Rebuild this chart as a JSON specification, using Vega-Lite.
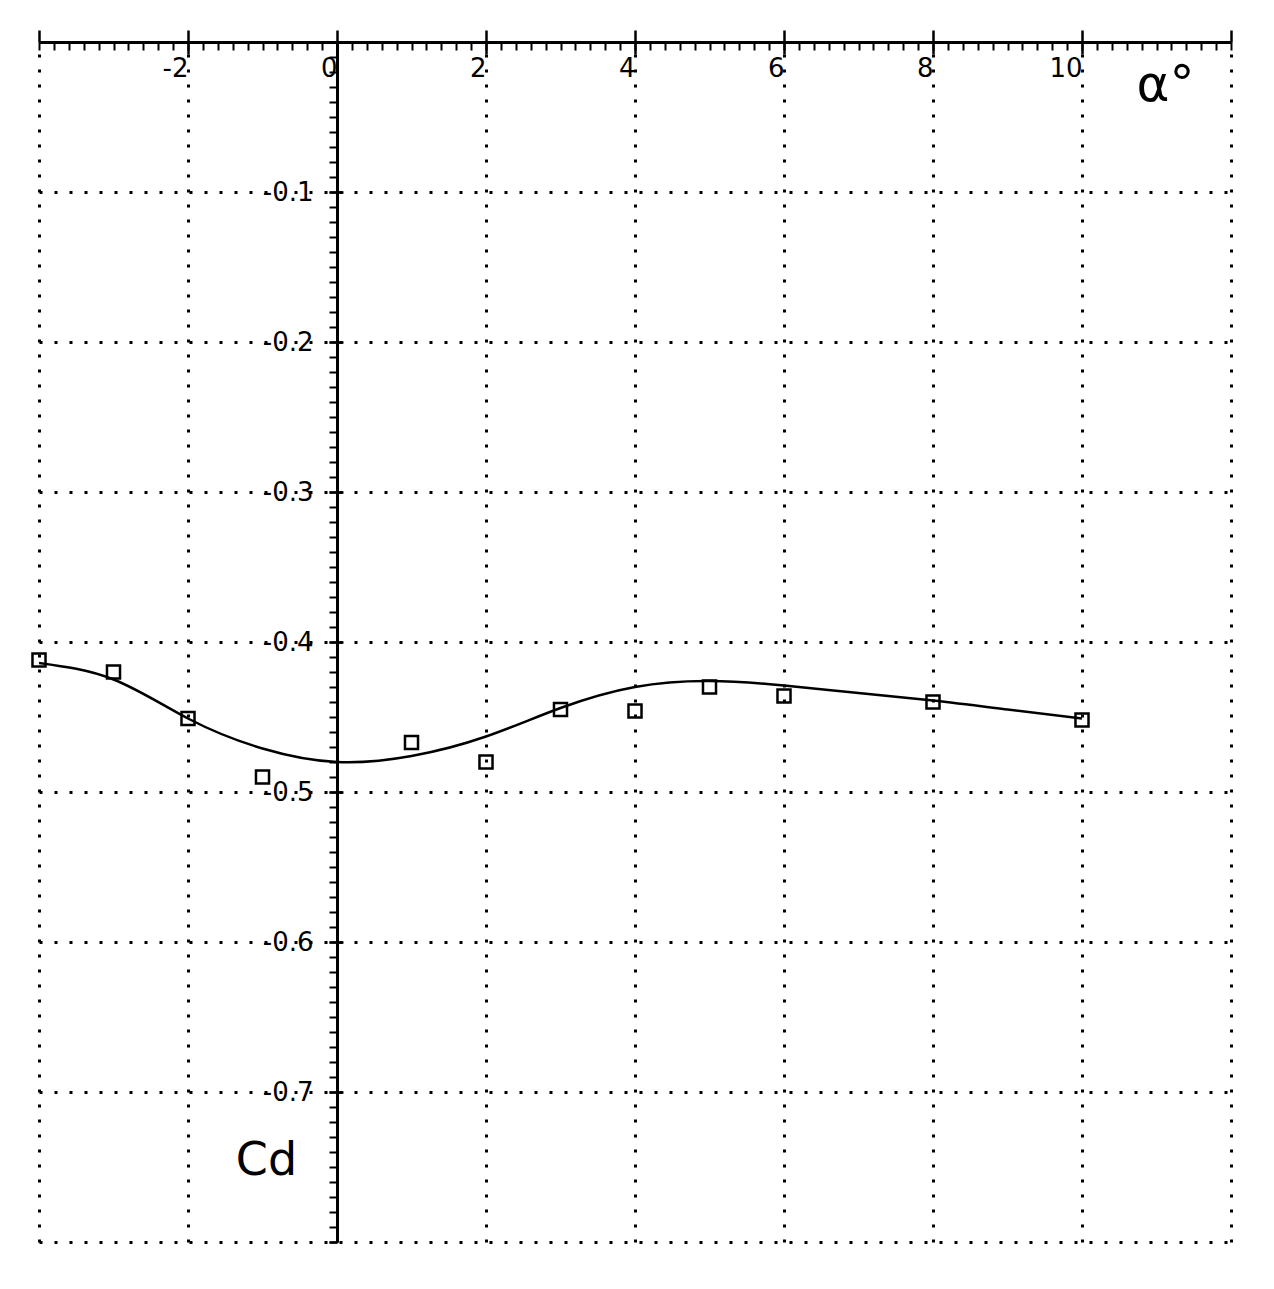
{
  "$schema": "https://vega.github.io/schema/vega-lite/v6.json",
  "width": 1192,
  "height": 1200,
  "autosize": {"type": "none"},
  "padding": {"left": 39, "top": 42, "right": 43, "bottom": 47},
  "background": "white",
  "config": {
    "view": {"stroke": null},
    "axis": {
      "labelFont": "DejaVu Sans",
      "labelFontSize": 26,
      "labelColor": "black",
      "tickColor": "black",
      "domainColor": "black",
      "titleColor": "black",
      "titleFont": "DejaVu Sans",
      "titleFontWeight": "normal",
      "gridColor": "black",
      "gridOpacity": 1,
      "labelFlush": false,
      "labelOverlap": false
    }
  },
  "datasets": {
    "points": [
      {"alpha": -4, "cd": -0.412},
      {"alpha": -3, "cd": -0.420},
      {"alpha": -2, "cd": -0.451},
      {"alpha": -1, "cd": -0.490},
      {"alpha": 1, "cd": -0.467},
      {"alpha": 2, "cd": -0.480},
      {"alpha": 3, "cd": -0.445},
      {"alpha": 4, "cd": -0.446},
      {"alpha": 5, "cd": -0.430},
      {"alpha": 6, "cd": -0.436},
      {"alpha": 8, "cd": -0.440},
      {"alpha": 10, "cd": -0.452}
    ],
    "curve": [
      {"alpha": -4, "cd": -0.414},
      {"alpha": -3, "cd": -0.425},
      {"alpha": -2, "cd": -0.451},
      {"alpha": -1, "cd": -0.471},
      {"alpha": 0, "cd": -0.480},
      {"alpha": 1, "cd": -0.476},
      {"alpha": 2, "cd": -0.463},
      {"alpha": 3, "cd": -0.444},
      {"alpha": 4, "cd": -0.430},
      {"alpha": 5, "cd": -0.426},
      {"alpha": 6, "cd": -0.429},
      {"alpha": 7, "cd": -0.434},
      {"alpha": 8, "cd": -0.439},
      {"alpha": 9, "cd": -0.445},
      {"alpha": 10, "cd": -0.451}
    ]
  },
  "resolve": {"axis": {"x": "independent", "y": "independent"}},
  "layer": [
    {
      "data": {"name": "curve"},
      "mark": {"type": "line", "interpolate": "natural", "stroke": "black", "strokeWidth": 2.5},
      "encoding": {
        "x": {
          "field": "alpha", "type": "quantitative",
          "scale": {"domain": [-4, 12], "nice": false, "zero": false},
          "axis": {
            "orient": "top", "values": [-4, -2, 0, 2, 4, 6, 8, 10, 12],
            "labels": false, "domain": false, "ticks": true, "tickSize": 12, "tickWidth": 2.5,
            "grid": true, "gridDash": [3, 12], "gridWidth": 3, "title": null
          }
        },
        "y": {
          "field": "cd", "type": "quantitative",
          "scale": {"domain": [-0.8, 0], "nice": false, "zero": false},
          "axis": {
            "orient": "left", "offset": -298,
            "values": [0, -0.1, -0.2, -0.3, -0.4, -0.5, -0.6, -0.7, -0.8],
            "labels": false, "domain": false, "ticks": true, "tickSize": 8, "tickWidth": 2.5,
            "grid": true, "gridDash": [3, 12], "gridWidth": 3, "title": null
          }
        }
      }
    },
    {
      "data": {"name": "points"},
      "mark": {"type": "point", "shape": "square", "filled": false, "size": 170, "strokeWidth": 2.5, "color": "black", "opacity": 1},
      "encoding": {
        "x": {
          "field": "alpha", "type": "quantitative",
          "scale": {"domain": [-4, 12], "nice": false, "zero": false},
          "axis": {
            "orient": "top", "values": [-2, 0, 2, 4, 6, 8, 10],
            "ticks": false, "grid": false, "domain": true, "domainWidth": 3,
            "labelPadding": -34, "labelBaseline": "alphabetic", "labelAlign": "right", "labelDx": -3,
            "labelExpr": "datum.value < 0 ? '-' + abs(datum.value) : '' + datum.value",
            "title": "α°", "titleX": 1126, "titleY": 43, "titleAlign": "center", "titleBaseline": "middle",
            "titleFontSize": 50, "titleAngle": 0, "zindex": 1
          }
        },
        "y": {
          "field": "cd", "type": "quantitative",
          "scale": {"domain": [-0.8, 0], "nice": false, "zero": false},
          "axis": {
            "orient": "left", "offset": -298,
            "values": [-0.1, -0.2, -0.3, -0.4, -0.5, -0.6, -0.7],
            "ticks": false, "grid": false, "domain": true, "domainWidth": 3,
            "labelPadding": 24, "labelBaseline": "middle",
            "labelExpr": "'-' + format(abs(datum.value), '.1f')",
            "title": "Cd", "titleAngle": 0, "titleX": -71, "titleY": 1118, "titleAlign": "center", "titleBaseline": "middle",
            "titleFontSize": 46, "zindex": 1
          }
        }
      }
    },
    {
      "data": {"name": "points"},
      "mark": {"type": "point", "opacity": 0},
      "encoding": {
        "x": {
          "field": "alpha", "type": "quantitative",
          "scale": {"domain": [-4, 12], "nice": false, "zero": false},
          "axis": {
            "orient": "top", "values": [-2, 0, 2, 4, 6, 8, 10],
            "labels": false, "domain": false, "grid": false, "ticks": true, "tickSize": -12, "tickWidth": 2.5, "title": null
          }
        },
        "y": {
          "field": "cd", "type": "quantitative",
          "scale": {"domain": [-0.8, 0], "nice": false, "zero": false},
          "axis": {
            "orient": "left", "offset": -298,
            "values": [-0.1, -0.2, -0.3, -0.4, -0.5, -0.6, -0.7],
            "labels": false, "domain": false, "grid": false, "ticks": true, "tickSize": -6, "tickWidth": 2.5, "title": null
          }
        }
      }
    },
    {
      "data": {"name": "points"},
      "mark": {"type": "point", "opacity": 0},
      "encoding": {
        "x": {
          "field": "alpha", "type": "quantitative",
          "scale": {"domain": [-4, 12], "nice": false, "zero": false},
          "axis": {
            "orient": "top",
            "values": [-4, -3.8, -3.6, -3.4, -3.2, -3, -2.8, -2.6, -2.4, -2.2, -2, -1.8, -1.6, -1.4, -1.2, -1, -0.8, -0.6, -0.4, -0.2, 0, 0.2, 0.4, 0.6, 0.8, 1, 1.2, 1.4, 1.6, 1.8, 2, 2.2, 2.4, 2.6, 2.8, 3, 3.2, 3.4, 3.6, 3.8, 4, 4.2, 4.4, 4.6, 4.8, 5, 5.2, 5.4, 5.6, 5.8, 6, 6.2, 6.4, 6.6, 6.8, 7, 7.2, 7.4, 7.6, 7.8, 8, 8.2, 8.4, 8.6, 8.8, 9, 9.2, 9.4, 9.6, 9.8, 10, 10.2, 10.4, 10.6, 10.8, 11, 11.2, 11.4, 11.6, 11.8, 12],
            "labels": false, "domain": false, "grid": false, "ticks": true, "tickSize": -8, "tickWidth": 2, "title": null
          }
        },
        "y": {
          "field": "cd", "type": "quantitative",
          "scale": {"domain": [-0.8, 0], "nice": false, "zero": false},
          "axis": {
            "orient": "left", "offset": -298,
            "values": [0, -0.01, -0.02, -0.03, -0.04, -0.05, -0.06, -0.07, -0.08, -0.09, -0.1, -0.11, -0.12, -0.13, -0.14, -0.15, -0.16, -0.17, -0.18, -0.19, -0.2, -0.21, -0.22, -0.23, -0.24, -0.25, -0.26, -0.27, -0.28, -0.29, -0.3, -0.31, -0.32, -0.33, -0.34, -0.35, -0.36, -0.37, -0.38, -0.39, -0.4, -0.41, -0.42, -0.43, -0.44, -0.45, -0.46, -0.47, -0.48, -0.49, -0.5, -0.51, -0.52, -0.53, -0.54, -0.55, -0.56, -0.57, -0.58, -0.59, -0.6, -0.61, -0.62, -0.63, -0.64, -0.65, -0.66, -0.67, -0.68, -0.69, -0.7, -0.71, -0.72, -0.73, -0.74, -0.75, -0.76, -0.77, -0.78, -0.79, -0.8],
            "labels": false, "domain": false, "grid": false, "ticks": true, "tickSize": 8, "tickWidth": 2, "title": null
          }
        }
      }
    }
  ]
}
